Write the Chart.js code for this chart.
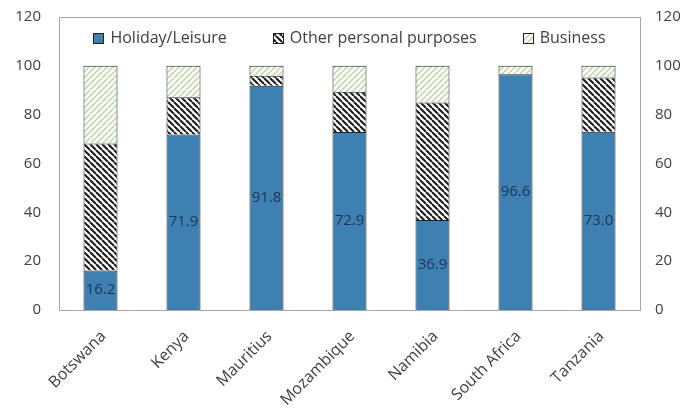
<!DOCTYPE html>
<html>
<head>
<meta charset="utf-8">
<script src="https://cdn.jsdelivr.net/npm/chart.js@4/dist/chart.umd.min.js"></script>
<style>
  html, body { margin: 0; padding: 0; background: #fff; }
  #wrap { width: 688px; height: 408px; }
</style>
</head>
<body>
<div id="wrap"><canvas id="tourismChart"></canvas></div>
<script>
// Purpose of visit, share of arrivals (%)
const countries = ['Botswana', 'Kenya', 'Mauritius', 'Mozambique', 'Namibia', 'South Africa', 'Tanzania'];
const holiday = [16.2, 71.9, 91.8, 72.9, 36.9, 96.6, 73.0];
const otherPersonal = [52.0, 15.2, 4.1, 16.5, 48.1, 0, 22.2];
const business = [31.8, 12.9, 4.1, 10.6, 15.0, 3.4, 4.8];
const yTicks = [0, 20, 40, 60, 80, 100, 120];

const FONT = '"Open Sans", sans-serif';

// Build a diagonal hatch pattern on a small canvas
function makeHatch(color, lineWidth, size, backslash) {
    const c = document.createElement('canvas');
    c.width = size;
    c.height = size;
    const ctx = c.getContext('2d');
    ctx.fillStyle = '#ffffff';
    ctx.fillRect(0, 0, size, size);
    ctx.strokeStyle = color;
    ctx.lineWidth = lineWidth;
    ctx.beginPath();
    for (let k = -1; k <= 1; k++) {
        if (backslash) {
            ctx.moveTo(k * size, 0);
            ctx.lineTo(k * size + size, size);
        } else {
            ctx.moveTo(k * size, size);
            ctx.lineTo(k * size + size, 0);
        }
    }
    ctx.stroke();
    return ctx.createPattern(c, 'repeat');
}

const otherPattern = makeHatch('#1a1a1a', 2, 6, true);
const businessPattern = makeHatch('#b9d6a3', 1.5, 6, false);

// Box around the plot area
const frame = {
    id: 'frame',
    beforeDatasetsDraw(chart) {
        const a = chart.chartArea;
        const ctx = chart.ctx;
        ctx.save();
        ctx.strokeStyle = '#a6a6a6';
        ctx.lineWidth = 1;
        ctx.strokeRect(Math.round(a.left) + 0.5, Math.round(a.top) + 0.5, Math.round(a.right - a.left), Math.round(a.bottom - a.top));
        ctx.restore();
    }
};

// Value labels in the middle of the holiday segments
const valueLabels = {
    id: 'valueLabels',
    afterDatasetsDraw(chart) {
        const meta = chart.getDatasetMeta(0);
        const ctx = chart.ctx;
        ctx.save();
        ctx.font = '15px ' + FONT;
        ctx.fillStyle = '#1c3553';
        ctx.textAlign = 'center';
        ctx.textBaseline = 'middle';
        meta.data.forEach((bar, i) => {
            const p = bar.getCenterPoint();
            ctx.fillText(holiday[i].toFixed(1), p.x, p.y);
        });
        ctx.restore();
    }
};

// Horizontal legend drawn inside the top of the plot area
const innerLegend = {
    id: 'innerLegend',
    afterDatasetsDraw(chart) {
        const ctx = chart.ctx;
        const a = chart.chartArea;
        const box = 11, gap = 6, spacing = 46;
        ctx.save();
        ctx.font = '16px ' + FONT;
        const items = chart.data.datasets.map(ds => ({
            ds,
            w: box + gap + ctx.measureText(ds.label).width
        }));
        const total = items.reduce((s, it) => s + it.w, 0) + spacing * (items.length - 1);
        let x = (a.left + a.right) / 2 - total / 2;
        const y = a.top + 21;
        items.forEach(it => {
            ctx.fillStyle = it.ds.backgroundColor;
            ctx.fillRect(Math.round(x), Math.round(y - box / 2), box, box);
            ctx.strokeStyle = '#222';
            ctx.lineWidth = 1;
            ctx.strokeRect(Math.round(x) + 0.5, Math.round(y - box / 2) + 0.5, box - 1, box - 1);
            ctx.fillStyle = '#404040';
            ctx.textBaseline = 'middle';
            ctx.textAlign = 'left';
            ctx.fillText(it.ds.label, x + box + gap, y);
            x += it.w + spacing;
        });
        ctx.restore();
    }
};

const tickFont = { family: FONT, size: 15 };

new Chart(document.getElementById('tourismChart'), {
    type: 'bar',
    data: {
        labels: countries,
        datasets: [
            { label: 'Holiday/Leisure', data: holiday, backgroundColor: '#3f80b2', borderColor: '#222', borderWidth: 1 },
            { label: 'Other personal purposes', data: otherPersonal, backgroundColor: otherPattern, borderColor: '#222', borderWidth: 1 },
            { label: 'Business', data: business, backgroundColor: businessPattern, borderColor: '#222', borderWidth: 1 }
        ]
    },
    options: {
        responsive: true,
        maintainAspectRatio: false,
        animation: false,
        datasets: {
            bar: { categoryPercentage: 1, barPercentage: 0.41 }
        },
        layout: { padding: { left: 0, right: 0, top: 17, bottom: 0 } },
        plugins: {
            legend: { display: false },
            tooltip: { enabled: false }
        },
        scales: {
            x: {
                stacked: true,
                grid: { display: false, drawTicks: false },
                border: { display: false },
                ticks: { font: { family: FONT, size: 16 }, color: '#404040', maxRotation: 45, minRotation: 45, padding: 17, labelOffset: 3 },
                afterFit: axis => { axis.height = 98; axis.paddingLeft = 0; axis.paddingRight = 0; }
            },
            y: {
                stacked: true,
                min: 0,
                max: 120,
                afterBuildTicks: axis => { axis.ticks = yTicks.map(v => ({ value: v })); },
                grid: { display: false, drawTicks: false },
                border: { display: false },
                ticks: { font: tickFont, color: '#404040', padding: 18 },
                afterFit: axis => { axis.width = 59; axis.paddingTop = 0; axis.paddingBottom = 0; }
            },
            y2: {
                position: 'right',
                min: 0,
                max: 120,
                afterBuildTicks: axis => { axis.ticks = yTicks.map(v => ({ value: v })); },
                grid: { display: false, drawTicks: false },
                border: { display: false },
                ticks: { font: tickFont, color: '#404040', padding: 15 },
                afterFit: axis => { axis.width = 48; axis.paddingTop = 0; axis.paddingBottom = 0; }
            }
        }
    },
    plugins: [frame, valueLabels, innerLegend]
});
</script>
</body>
</html>
